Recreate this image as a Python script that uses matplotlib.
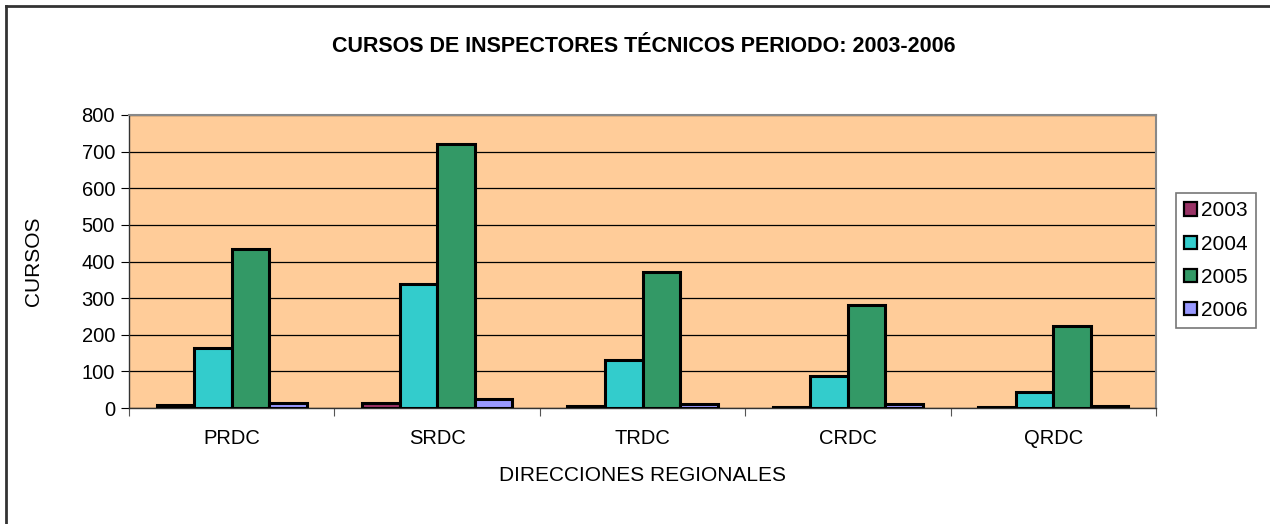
import numpy as np
import matplotlib
matplotlib.use("Agg")
from matplotlib import pyplot as plt
from matplotlib.lines import Line2D

regions = ["PRDC", "SRDC", "TRDC", "CRDC", "QRDC"]
years = ["2003", "2004", "2005", "2006"]
v2003 = [7, 13, 6, 3, 3]
v2004 = [164, 338, 130, 88, 45]
v2005 = [433, 720, 372, 280, 225]
v2006 = [13, 25, 10, 10, 5]
colors = ["#993366", "#33CCCC", "#339966", "#9999FF"]

plt.rcParams["font.family"] = ["Liberation Sans", "DejaVu Sans"]

fig = plt.figure(figsize=(12.7, 5.24), dpi=100)
ax = fig.add_axes([129 / 1270, 1 - 408 / 524, 1027 / 1270, 293 / 524])
ax.set_facecolor("#FFCC99")

x = np.arange(len(regions))
w = 0.1826
for i, (vals, col, yr) in enumerate(zip([v2003, v2004, v2005, v2006], colors, years)):
    ax.bar(x + (i - 1.5) * w, vals, w, color=col, edgecolor="black",
           linewidth=2.2, label=yr, zorder=3)

ax.set_xlim(-0.5, len(regions) - 0.5)
ax.set_ylim(0, 800)
ax.set_yticks(np.arange(0, 801, 100))
ax.yaxis.grid(True, color="black", linewidth=0.9, zorder=1)
ax.set_axisbelow(True)

ax.set_xticks(np.arange(-0.5, len(regions)), minor=False)
ax.set_xticklabels([])
ax.set_xticks(x, minor=True)
ax.set_xticklabels(regions, minor=True, fontsize=14.5)
ax.tick_params(axis="x", which="minor", length=0, pad=15)
ax.tick_params(axis="x", which="major", length=6, direction="out", color="#555555")
ax.tick_params(axis="y", length=6, direction="out", labelsize=14.5, pad=4)

for side in ["top", "right"]:
    ax.spines[side].set_color("#888888")
    ax.spines[side].set_linewidth(1.5)
for side in ["left", "bottom"]:
    ax.spines[side].set_color("#333333")
    ax.spines[side].set_linewidth(1.0)

ax.set_ylabel("CURSOS", fontsize=15, labelpad=28)
ax.set_xlabel("DIRECCIONES REGIONALES", fontsize=15, labelpad=13)
fig.text(644 / 1270, 1 - 47 / 524,
         "CURSOS DE INSPECTORES TÉCNICOS PERIODO: 2003-2006",
         ha="center", va="center", fontsize=15.5, fontweight="bold")

leg = ax.legend(loc="upper left", bbox_to_anchor=(1176 / 1270, 1 - 193 / 524),
                bbox_transform=fig.transFigure, fontsize=15, frameon=True,
                fancybox=False, edgecolor="#555555", handlelength=0.6,
                handleheight=0.6, handletextpad=0.2, labelspacing=0.68,
                borderpad=0.4, borderaxespad=0)
leg.get_frame().set_linewidth(1.2)
for h in leg.legend_handles:
    h.set_linewidth(1.6)

# outer chart border (only left and top visible in the crop)
fig.add_artist(Line2D([6 / 1270, 6 / 1270], [0, 1 - 6 / 524],
                      transform=fig.transFigure, color="#333333", linewidth=2))
fig.add_artist(Line2D([6 / 1270, 1], [1 - 6 / 524, 1 - 6 / 524],
                      transform=fig.transFigure, color="#333333", linewidth=2))

fig.savefig("out.png", dpi=100)
